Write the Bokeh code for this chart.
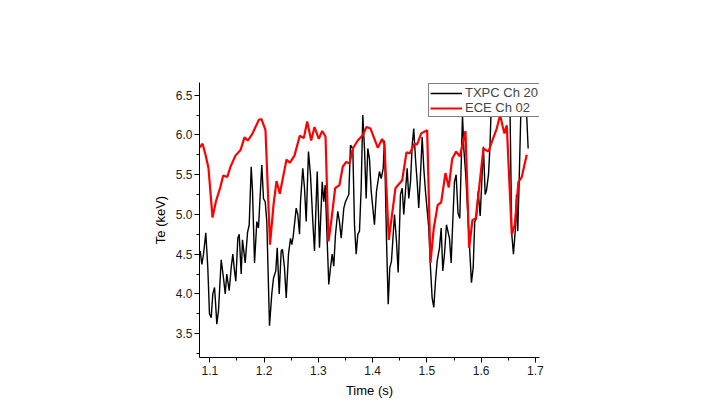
from bokeh.plotting import figure
from bokeh.models import Range1d, SingleIntervalTicker, Legend, LegendItem, NumeralTickFormatter
from bokeh.embed import file_html
from bokeh.resources import INLINE

# TXPC Ch 20 (black)
txpc_t = [1.0823, 1.0853, 1.0884, 1.0926, 1.0963, 1.0994, 1.1026, 1.1055, 1.1087, 1.1111,
          1.1129, 1.1160, 1.1210, 1.1252, 1.1284, 1.1313, 1.1357, 1.1394, 1.1424, 1.1455,
          1.1479, 1.1516, 1.1542, 1.1578, 1.1602, 1.1652, 1.1695, 1.1726, 1.1763, 1.1787,
          1.1824, 1.1866, 1.1897, 1.1929, 1.1958, 1.1989, 1.2021, 1.2050, 1.2100, 1.2142,
          1.2174, 1.2216, 1.2242, 1.2279, 1.2315, 1.2339, 1.2376, 1.2408, 1.2450, 1.2487,
          1.2511, 1.2536, 1.2592, 1.2621, 1.2653, 1.2671, 1.2713, 1.2745, 1.2776, 1.2818,
          1.2855, 1.2898, 1.2929, 1.2979, 1.3021, 1.3071, 1.3100, 1.3126, 1.3192, 1.3224,
          1.3255, 1.3284, 1.3316, 1.3358, 1.3389, 1.3421, 1.3469, 1.3500, 1.3561, 1.3592,
          1.3635, 1.3666, 1.3697, 1.3727, 1.3758, 1.3789, 1.3819, 1.3850, 1.3881, 1.3911,
          1.3942, 1.3973, 1.4034, 1.4071, 1.4126, 1.4158, 1.4195, 1.4218, 1.4255, 1.4287,
          1.4316, 1.4347, 1.4403, 1.4440, 1.4471, 1.4513, 1.4545, 1.4574, 1.4605, 1.4637,
          1.4666, 1.4698, 1.4729, 1.4758, 1.4790, 1.4821, 1.4850, 1.4882, 1.4913, 1.4943,
          1.4974, 1.5035, 1.5066, 1.5097, 1.5127, 1.5158, 1.5189, 1.5232, 1.5263, 1.5293,
          1.5324, 1.5361, 1.5416, 1.5447, 1.5477, 1.5508, 1.5539, 1.5573, 1.5606, 1.5656,
          1.5683, 1.5716, 1.5761, 1.5790, 1.5821, 1.5853, 1.5882, 1.5913, 1.5945, 1.5982,
          1.6042, 1.6074, 1.6098, 1.6135, 1.6162, 1.6190, 1.6264, 1.6337, 1.6411, 1.6484,
          1.6531, 1.6564, 1.6595, 1.6632, 1.6650, 1.6674, 1.6700, 1.6737, 1.6779, 1.6803,
          1.6835, 1.6866]
txpc_te = [4.54, 4.37, 4.50, 4.77, 4.33, 3.75, 3.70, 4.00, 4.08, 3.83,
           3.62, 3.79, 4.43, 4.20, 4.00, 4.25, 4.04, 4.33, 4.50, 4.29,
           4.16, 4.70, 4.75, 4.25, 4.68, 4.39, 4.77, 4.87, 5.60, 5.29,
           4.39, 4.91, 4.83, 5.25, 5.62, 5.20, 5.16, 4.91, 3.60, 4.00,
           4.20, 4.29, 4.58, 4.00, 4.54, 4.56, 4.33, 3.95, 4.50, 4.70,
           4.62, 4.72, 5.08, 5.00, 4.75, 5.16, 5.58, 5.33, 4.91, 5.79,
           5.50, 4.91, 4.54, 5.54, 4.58, 5.41, 5.16, 5.37, 4.12, 4.33,
           4.50, 4.35, 4.75, 5.04, 4.91, 4.70, 5.08, 5.16, 5.25, 5.87,
           5.83, 4.87, 4.50, 4.75, 4.79, 5.33, 6.25, 5.83, 5.20, 5.83,
           5.70, 5.30, 4.87, 5.29, 5.54, 5.45, 5.58, 5.93, 4.70, 3.87,
           4.33, 4.41, 5.00, 4.66, 4.27, 5.25, 5.33, 5.00, 5.29, 5.58,
           5.20, 5.41, 5.87, 6.08, 5.70, 5.41, 5.08, 5.50, 5.975, 5.58,
           5.29, 4.83, 4.33, 3.95, 3.83, 4.16, 4.41, 4.58, 4.83, 4.29,
           4.50, 4.87, 4.70, 4.39, 4.91, 5.41, 5.50, 5.02, 4.95, 6.25,
           5.80, 5.50, 4.91, 4.54, 4.14, 4.33, 4.91, 4.95, 5.29, 4.98,
           5.85, 5.25, 5.30, 5.50, 5.85, 6.45, 6.55, 6.40, 6.60, 6.45,
           6.35, 4.75, 4.50, 4.83, 5.25, 4.79, 5.41, 6.45, 6.60, 6.41,
           6.30, 5.83]

# ECE Ch 02 (red)
ece_t = [1.0792, 1.0866, 1.0921, 1.0976, 1.1050, 1.1111, 1.1197, 1.1247, 1.1321, 1.1381,
         1.1473, 1.1566, 1.1639, 1.1700, 1.1781, 1.1903, 1.1952, 1.2026, 1.2109, 1.2174,
         1.2229, 1.2290, 1.2413, 1.2474, 1.2560, 1.2658, 1.2732, 1.2794, 1.2868, 1.2929,
         1.3008, 1.3071, 1.3132, 1.3187, 1.3237, 1.3310, 1.3389, 1.3450, 1.3513, 1.3574,
         1.3635, 1.3727, 1.3819, 1.3887, 1.3961, 1.4095, 1.4176, 1.4218, 1.4298, 1.4421,
         1.4545, 1.4624, 1.4685, 1.4771, 1.4821, 1.4895, 1.5005, 1.5066, 1.5127, 1.5200,
         1.5263, 1.5342, 1.5403, 1.5466, 1.5539, 1.5606, 1.5711, 1.5779, 1.5840, 1.5900,
         1.5978, 1.6042, 1.6135, 1.6195, 1.6287, 1.6350, 1.6392, 1.6429, 1.6472, 1.6564,
         1.6619, 1.6687, 1.6748, 1.6840]
ece_te = [5.83, 5.89, 5.75, 5.58, 4.96, 5.16, 5.35, 5.49, 5.47, 5.60,
          5.74, 5.81, 5.97, 5.93, 6.01, 6.19, 6.20, 6.06, 4.62, 5.12,
          5.42, 5.26, 5.69, 5.65, 5.74, 5.99, 5.96, 6.17, 5.93, 6.10,
          5.95, 6.05, 5.98, 4.66, 4.91, 5.33, 5.37, 5.60, 5.66, 5.64,
          5.83, 5.93, 6.00, 6.10, 6.08, 5.84, 5.95, 5.88, 4.68, 5.33,
          5.43, 5.78, 5.77, 5.89, 5.88, 6.02, 6.06, 4.39, 4.83, 5.12,
          5.15, 5.52, 5.34, 5.70, 5.79, 5.73, 6.05, 4.58, 4.93, 4.95,
          5.43, 5.83, 5.79, 5.91, 6.08, 6.25, 6.12, 6.02, 6.12, 4.75,
          4.87, 5.41, 5.47, 5.75]

series_labels = ["TXPC Ch 20", "ECE Ch 02"]

FONT = "Liberation Sans"

p = figure(width=708, height=411, output_backend="svg", toolbar_location=None,
           x_range=Range1d(1.081, 1.7075), y_range=Range1d(3.2, 6.66),
           min_border_left=199, min_border_right=169, min_border_top=82, min_border_bottom=54)
p.outline_line_color = None
p.grid.visible = False
p.background_fill_color = "white"
p.border_fill_color = "white"

l1 = p.line(txpc_t, txpc_te, line_color="black", line_width=1.4)
l2 = p.line(ece_t, ece_te, line_color="#ff0000", line_width=2.2)

p.xaxis.ticker = SingleIntervalTicker(interval=0.1, num_minor_ticks=2)
p.yaxis.ticker = SingleIntervalTicker(interval=0.5, num_minor_ticks=2)
p.xaxis.formatter = NumeralTickFormatter(format="0.0")
p.yaxis.formatter = NumeralTickFormatter(format="0.0")
for ax in (p.xaxis[0], p.yaxis[0]):
    ax.axis_line_color = "black"
    ax.major_tick_line_color = "black"
    ax.minor_tick_line_color = "black"
    ax.major_tick_out = 5
    ax.major_tick_in = 0
    ax.minor_tick_out = 3
    ax.minor_tick_in = 0
    ax.major_label_text_font = FONT
    ax.major_label_text_font_size = "12px"
    ax.major_label_text_color = "#1a1a1a"
    ax.axis_label_text_font = FONT
    ax.axis_label_text_font_size = "13px"
    ax.axis_label_text_font_style = "normal"
    ax.axis_label_text_color = "black"
p.xaxis.axis_label = "Time (s)"
p.yaxis.axis_label = "Te (keV)"
p.xaxis.major_label_standoff = 3
p.yaxis.major_label_standoff = 2
p.xaxis.axis_label_standoff = 5
p.yaxis.axis_label_standoff = 5

legend = Legend(items=[LegendItem(label=series_labels[0], renderers=[l1]),
                       LegendItem(label=series_labels[1], renderers=[l2])],
                location=(229, 240))
legend.border_line_color = "black"
legend.border_line_width = 1
legend.background_fill_color = "white"
legend.background_fill_alpha = 1
legend.label_text_font = FONT
legend.label_text_font_size = "13px"
legend.label_height = 12
legend.glyph_height = 12
legend.glyph_width = 32
legend.label_standoff = 3
legend.spacing = 0
legend.padding = 1
legend.margin = 0
p.add_layout(legend, "center")

open("out.html", "w").write(file_html(p, INLINE))
